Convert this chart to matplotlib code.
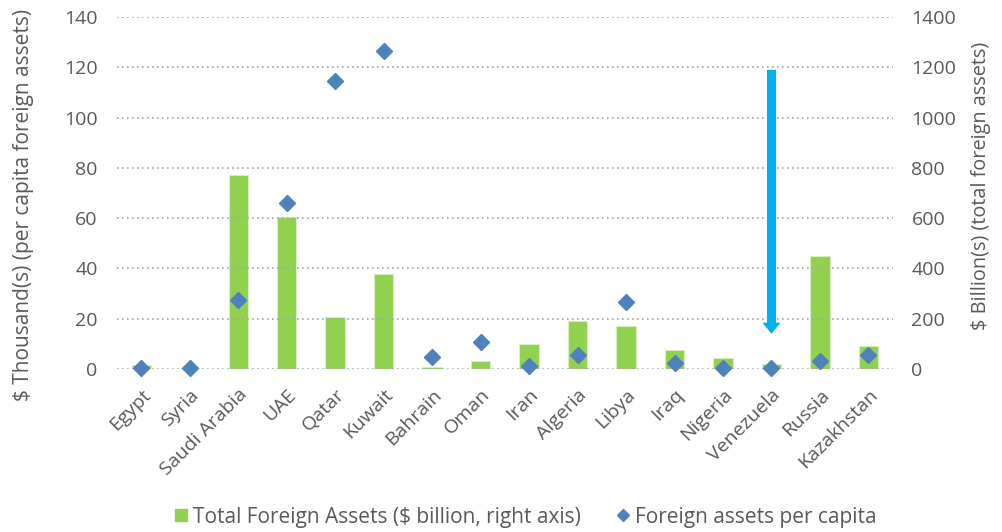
import matplotlib.pyplot as plt
import numpy as np
from matplotlib.lines import Line2D

plt.rcParams["font.family"] = ["Open Sans", "DejaVu Sans"]

countries = ["Egypt", "Syria", "Saudi Arabia", "UAE", "Qatar", "Kuwait", "Bahrain",
             "Oman", "Iran", "Algeria", "Libya", "Iraq", "Nigeria", "Venezuela",
             "Russia", "Kazakhstan"]
total_assets = [15, 3, 770, 605, 207, 378, 8, 30, 100, 191, 171, 76, 44, 20, 449, 91]  # $ billion
per_capita = [0.3, 0.2, 27.4, 66, 114.6, 126.5, 4.8, 10.7, 1.2, 5.6, 26.7, 2.4, 0.3, 0.5, 3.2, 5.6]  # $ thousand
arrow_from, arrow_to = 119, 14  # left-axis units, at Venezuela

grey = "#595959"
green = "#92D050"
blue = "#4F81BD"

fig = plt.figure(figsize=(10.03, 5.32), dpi=100)
ax1 = fig.add_axes([0.1167, 0.3064, 0.7733, 0.6616])
ax2 = ax1.twinx()

x = np.arange(len(countries))

# bars on the right axis, drawn underneath the diamonds
ax2.bar(x, total_assets, width=0.4, color=green, edgecolor="#D8EFC0", linewidth=0.8, zorder=2)
ax2.set_ylim(0, 1400)
ax2.set_yticks(np.arange(0, 1401, 200))

ax1.set_zorder(ax2.get_zorder() + 1)
ax1.patch.set_visible(False)
ax1.plot(x, per_capita, linestyle="none", marker="D", markersize=8, color=blue, zorder=3,
         clip_on=False)
ax1.set_ylim(0, 140)
ax1.set_yticks(np.arange(0, 141, 20))
ax1.set_xlim(-0.5, len(countries) - 0.5)
ax1.set_xticks(x)
ax1.set_xticklabels(countries, rotation=45, ha="right", va="top", rotation_mode="anchor",
                    fontsize=17, color=grey)
ax1.grid(axis="y", linestyle=(0, (1, 2)), color="#A6A6A6", linewidth=1.2)
ax1.set_axisbelow(True)

# Venezuela arrow
i = countries.index("Venezuela")
ax1.annotate("", xy=(i, arrow_to), xytext=(i, arrow_from),
             arrowprops=dict(arrowstyle="simple,head_width=1.3,head_length=0.8,tail_width=0.65",
                             color="#00B0F0", lw=0, shrinkA=0, shrinkB=0), zorder=4)

for ax in (ax1, ax2):
    for s in ax.spines.values():
        s.set_visible(False)
    ax.tick_params(length=0, labelsize=14, labelcolor=grey)
ax1.tick_params(axis="y", pad=14)
ax2.tick_params(axis="y", pad=13.5)
ax1.tick_params(axis="x", pad=12)

fig.text(24 / 1003, 1 - 205 / 532, "$ Thousand(s) (per capita foreign assets)", rotation=90,
         ha="center", va="center", fontsize=15, color=grey)
fig.text(981 / 1003, 1 - 186 / 532, "$ Billion(s) (total foreign assets)", rotation=90,
         ha="center", va="center", fontsize=14.3, color=grey)

handles = [Line2D([], [], linestyle="none", marker="s", markersize=8, color=green),
           Line2D([], [], linestyle="none", marker="D", markersize=6, color=blue)]
fig.legend(handles, ["Total Foreign Assets ($ billion, right axis)", "Foreign assets per capita"],
           loc="center", bbox_to_anchor=(0.522, 0.028), ncol=2, frameon=False, fontsize=15,
           labelcolor=grey, handletextpad=0.1, columnspacing=1.5, handlelength=1.0)

fig.savefig("out.png", dpi=100)
